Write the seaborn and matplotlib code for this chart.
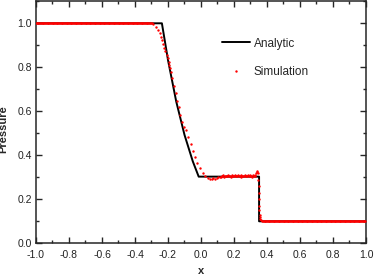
import numpy as np
import pandas as pd
import seaborn as sns
import matplotlib.pyplot as plt
from matplotlib.ticker import MultipleLocator

# analytic solution
analytic_x = [-1.0, -0.237, -0.2, -0.15, -0.1, -0.05, -0.014, 0.352, 0.352, 1.0]
analytic_p = [1.0, 1.0, 0.833, 0.644, 0.493, 0.373, 0.303, 0.303, 0.1, 0.1]

# simulation: flat states (particle grid) and the points in between
left_start, left_end, left_p = -1.0, -0.30, 1.0
right_start, right_end, right_p = 0.375, 0.995, 0.1
grid_step = 0.005

mid_x = [-0.289, -0.273, -0.259, -0.248, -0.241, -0.235, -0.228, -0.222, -0.216,
         -0.208, -0.202, -0.196, -0.192, -0.188, -0.182, -0.174, -0.164, -0.153,
         -0.144, -0.135, -0.127, -0.115, -0.105, -0.091, -0.077, -0.061, -0.048,
         -0.035, -0.022, -0.006, 0.010, 0.026, 0.045, 0.055, 0.065, 0.075, 0.085,
         0.095, 0.105, 0.115, 0.12, 0.13, 0.14, 0.15, 0.16, 0.17, 0.18, 0.19,
         0.20, 0.21, 0.22, 0.23, 0.24, 0.25, 0.26, 0.27, 0.28, 0.29, 0.30, 0.31,
         0.32, 0.125, 0.135, 0.145, 0.155, 0.165, 0.175, 0.185, 0.195, 0.205,
         0.215, 0.225, 0.235, 0.245, 0.255, 0.265, 0.275, 0.285, 0.295, 0.305,
         0.315, 0.325, 0.33, 0.335, 0.338, 0.342, 0.345, 0.348, 0.350, 0.351,
         0.352, 0.353, 0.354, 0.355, 0.357, 0.360, 0.364, 0.369]
mid_p = [0.995, 0.985, 0.971, 0.955, 0.939, 0.924, 0.906, 0.889, 0.874,
         0.856, 0.841, 0.823, 0.811, 0.795, 0.780, 0.750, 0.715, 0.682,
         0.648, 0.618, 0.583, 0.553, 0.530, 0.515, 0.485, 0.451, 0.421,
         0.394, 0.366, 0.341, 0.318, 0.306, 0.295, 0.292, 0.293, 0.296, 0.294,
         0.298, 0.300, 0.302, 0.303, 0.305, 0.302, 0.306, 0.304, 0.307, 0.303,
         0.305, 0.306, 0.304, 0.307, 0.305, 0.303, 0.306, 0.305, 0.307, 0.304,
         0.306, 0.305, 0.303, 0.306, 0.307, 0.309, 0.306, 0.308, 0.310, 0.307,
         0.309, 0.308, 0.310, 0.307, 0.309, 0.308, 0.310, 0.308, 0.309, 0.307,
         0.309, 0.310, 0.308, 0.309, 0.308, 0.312, 0.318, 0.326, 0.330, 0.320,
         0.290, 0.260, 0.230, 0.200, 0.170, 0.150, 0.130, 0.118, 0.110, 0.105,
         0.102]

left_x = np.arange(left_start, left_end + 1e-9, grid_step)
right_x = np.arange(right_start, right_end + 1e-9, grid_step)
sim = pd.DataFrame({
    'x': np.concatenate([left_x, mid_x, right_x]),
    'p': np.concatenate([np.full(len(left_x), left_p), mid_p, np.full(len(right_x), right_p)]),
})
ana = pd.DataFrame({'x': analytic_x, 'p': analytic_p})

sns.set_style('ticks')
plt.rcParams['font.family'] = ['Liberation Sans', 'DejaVu Sans']
plt.rcParams['axes.unicode_minus'] = False

fig = plt.figure(figsize=(3.74, 2.77), dpi=100)
ax = fig.add_axes([36 / 374, 1 - 243.3 / 277, 330 / 374, 242 / 277])

sns.lineplot(data=ana, x='x', y='p', sort=False, estimator=None, color='black',
             linewidth=1.4, label='Analytic', ax=ax, zorder=2)
sns.scatterplot(data=sim, x='x', y='p', color='red', s=3, linewidth=0,
                label='Simulation', ax=ax, zorder=3)

ax.set_xlim(-1.0, 1.0)
ax.set_ylim(0.0, 1.1)
ax.xaxis.set_major_locator(MultipleLocator(0.2))
ax.xaxis.set_minor_locator(MultipleLocator(0.1))
ax.yaxis.set_major_locator(MultipleLocator(0.2))
ax.yaxis.set_minor_locator(MultipleLocator(0.1))
ax.tick_params(which='both', direction='in', top=True, right=True, width=1.0,
               labelsize=7.5, labelcolor='#222222')
ax.tick_params(axis='x', pad=5)
ax.tick_params(axis='y', pad=3)
ax.tick_params(which='major', length=4.5)
ax.tick_params(which='minor', length=2.5)
for s in ax.spines.values():
    s.set_linewidth(1.1)

ax.set_xlabel('x', fontsize=8, fontweight='bold', labelpad=4)
ax.set_ylabel('Pressure', fontsize=8, fontweight='bold')
ax.yaxis.set_label_coords(-0.083, 0.47)

leg = ax.legend(loc='upper left', bbox_to_anchor=(0.563, 0.85), frameon=False,
                fontsize=8.5, handlelength=2.4, handletextpad=0.3, borderpad=0,
                borderaxespad=0, labelspacing=1.35, markerscale=1.0)

fig.savefig('out.png', dpi=100)
